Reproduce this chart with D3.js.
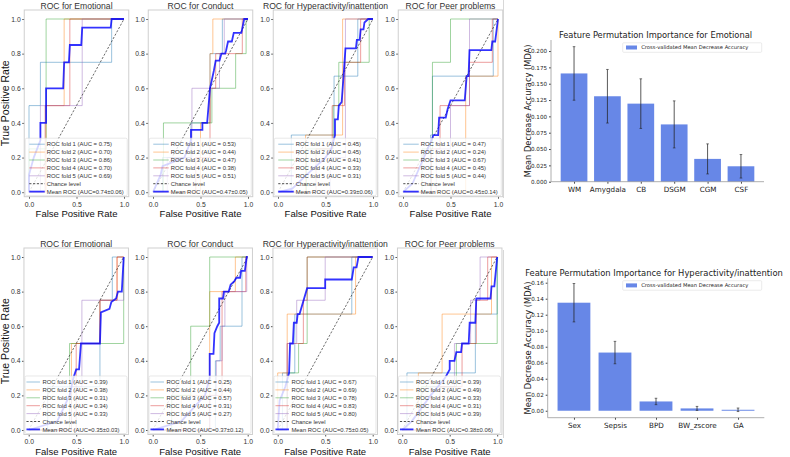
<!DOCTYPE html>
<html><head><meta charset="utf-8">
<script src="https://cdn.jsdelivr.net/npm/d3@7"></script>
<style>body{margin:0;background:#fff}svg{display:block}</style>
</head><body>
<svg id="c" width="790" height="457"></svg>
<script>
// ---------------- DATA ----------------
const rocTitles = ["ROC for Emotional","ROC for Conduct","ROC for Hyperactivity/inattention","ROC for Peer problems"];
const foldAUCTop = [[0.75,0.70,0.86,0.70,0.69],[0.53,0.44,0.47,0.38,0.51],[0.45,0.45,0.41,0.33,0.31],[0.47,0.24,0.67,0.45,0.44]];
const foldAUCBottom = [[0.39,0.38,0.31,0.34,0.33],[0.25,0.44,0.57,0.31,0.27],[0.67,0.69,0.78,0.83,0.80],[0.39,0.49,0.33,0.31,0.39]];
const meanAUCTop = [0.74,0.47,0.39,0.45];
const meanSDTop = [0.06,0.05,0.06,0.14];
const meanAUCBottom = [0.35,0.37,0.75,0.38];
const meanSDBottom = [0.03,0.12,0.05,0.06];

// fold ROC curves [fpr,tpr]
const foldsTopEmotional = [
  [[0,0],[0,0.5],[0.12,0.5],[0.12,0.75],[0.87,0.75],[0.87,1],[1,1]],
  [[0,0],[0.18,0],[0.18,0.5],[0.37,0.5],[0.37,1],[1,1]],
  [[0,0],[0,0.25],[0.18,0.25],[0.18,1],[1,1]],
  [[0,0],[0.17,0],[0.17,0.5],[0.43,0.5],[0.43,1],[1,1]],
  [[0,0],[0.12,0],[0.12,0.5],[0.56,0.5],[0.56,1],[1,1]]
];
const meanTopEmotional = [[0,0],[0,0.1],[0.05,0.2],[0.12,0.3],[0.12,0.4],[0.18,0.4],[0.18,0.6],[0.36,0.6],[0.37,0.75],[0.42,0.75],[0.43,0.85],[0.55,0.85],[0.56,0.95],[0.86,0.95],[0.87,1],[1,1]];
const foldsTopConduct = [
  [[0,0],[0.1,0],[0.1,0.2],[0.4,0.2],[0.4,0.4],[0.6,0.4],[0.6,0.8],[0.73,0.8],[0.73,1],[1,1]],
  [[0,0],[0.5,0],[0.5,0.4],[0.6,0.4],[0.6,0.8],[0.63,0.8],[0.63,1],[1,1]],
  [[0,0],[0.11,0],[0.11,0.4],[0.62,0.4],[0.62,0.6],[0.87,0.6],[0.87,0.8],[0.98,0.8],[0.98,1],[1,1]],
  [[0,0],[0.45,0],[0.45,0.2],[0.6,0.2],[0.6,0.6],[0.66,0.6],[0.66,0.8],[0.94,0.8],[0.94,1],[1,1]],
  [[0,0],[0.15,0],[0.15,0.2],[0.41,0.2],[0.41,0.6],[0.7,0.6],[0.7,0.8],[0.75,0.8],[0.75,1],[1,1]]
];
const meanTopConduct = [[0,0],[0.08,0.1],[0.1,0.15],[0.33,0.2],[0.4,0.3],[0.4,0.36],[0.52,0.36],[0.52,0.4],[0.57,0.4],[0.6,0.6],[0.64,0.7],[0.66,0.76],[0.7,0.76],[0.72,0.8],[0.76,0.8],[0.77,0.82],[0.79,0.87],[0.83,0.87],[0.85,0.92],[0.93,0.92],[0.96,1],[1,1]];
const foldsTopHyper = [
  [[0,0],[0.14,0],[0.14,0.33],[0.59,0.33],[0.59,0.67],[0.84,0.67],[0.84,1],[1,1]],
  [[0,0],[0.29,0],[0.29,0.33],[0.68,0.33],[0.68,1],[1,1]],
  [[0,0],[0.3,0],[0.3,0.25],[0.58,0.25],[0.58,0.5],[0.64,0.5],[0.64,0.75],[0.96,0.75],[0.96,1],[1,1]],
  [[0,0],[0.4,0],[0.4,0.25],[0.57,0.25],[0.57,0.5],[0.7,0.5],[0.7,0.75],[0.87,0.75],[0.87,1],[1,1]],
  [[0,0],[0.55,0],[0.55,0.2],[0.71,0.2],[0.71,1],[1,1]]
];
const meanTopHyper = [[0,0],[0.15,0.02],[0.3,0.1],[0.5,0.2],[0.56,0.25],[0.6,0.33],[0.6,0.42],[0.63,0.42],[0.64,0.5],[0.67,0.52],[0.69,0.67],[0.71,0.83],[0.82,0.83],[0.83,0.88],[0.86,0.88],[0.87,0.94],[0.9,0.94],[0.91,0.98],[0.95,1],[1,1]];
const foldsTopPeer = [
  [[0,0],[0.29,0],[0.29,0.33],[0.31,0.33],[0.31,0.67],[0.95,0.67],[0.95,1],[1,1]],
  [[0,0],[0.66,0],[0.66,0.67],[1,0.67],[1,1]],
  [[0,0],[0.2,0],[0.2,0.25],[0.31,0.25],[0.31,0.75],[0.5,0.75],[0.5,1],[1,1]],
  [[0,0],[0.3,0],[0.3,0.25],[0.39,0.25],[0.39,0.5],[0.7,0.5],[0.7,0.75],[0.94,0.75],[0.94,1],[1,1]],
  [[0,0],[0.35,0],[0.35,0.25],[0.5,0.25],[0.5,0.5],[0.7,0.5],[0.7,1],[1,1]]
];
const meanTopPeer = [[0,0],[0.1,0.05],[0.3,0.3],[0.32,0.33],[0.37,0.33],[0.38,0.43],[0.45,0.43],[0.47,0.48],[0.5,0.53],[0.65,0.53],[0.67,0.67],[0.69,0.67],[0.7,0.82],[0.93,0.82],[0.94,0.87],[0.97,0.87],[1,1]];
const foldsBottomEmotional = [
  [[0,0],[0.2,0],[0.2,0.25],[0.75,0.25],[0.75,0.75],[0.88,0.75],[0.88,1],[1,1]],
  [[0,0],[0.45,0],[0.45,0.5],[0.75,0.5],[0.75,0.75],[0.93,0.75],[0.93,1],[1,1]],
  [[0,0],[0.43,0],[0.43,0.5],[1,0.5],[1,1]],
  [[0,0],[0.5,0],[0.5,0.5],[0.75,0.5],[0.75,0.75],[0.93,0.75],[0.93,1],[1,1]],
  [[0,0],[0.45,0],[0.45,0.25],[0.56,0.25],[0.56,0.75],[1,0.75],[1,1]]
];
const meanBottomEmotional = [[0,0],[0.3,0.05],[0.43,0.2],[0.47,0.3],[0.5,0.35],[0.53,0.35],[0.55,0.5],[0.75,0.5],[0.76,0.68],[0.85,0.7],[0.87,0.74],[0.92,0.76],[0.94,0.8],[0.98,0.8],[1,1]];
const foldsBottomConduct = [
  [[0,0],[0.66,0],[0.66,0.4],[0.71,0.4],[0.71,0.6],[0.94,0.6],[0.94,1],[1,1]],
  [[0,0],[0.3,0],[0.3,0.2],[0.6,0.2],[0.6,0.8],[0.87,0.8],[0.87,1],[1,1]],
  [[0,0],[0.2,0],[0.2,0.2],[0.4,0.2],[0.4,0.6],[0.6,0.6],[0.6,1],[1,1]],
  [[0,0],[0.6,0],[0.6,0.2],[0.73,0.2],[0.73,0.8],[0.98,0.8],[0.98,1],[1,1]],
  [[0,0],[0.6,0],[0.6,0.2],[0.67,0.2],[0.67,0.4],[0.73,0.4],[0.73,0.6],[0.76,0.6],[0.76,0.8],[0.99,0.8],[0.99,1],[1,1]]
];
const meanBottomConduct = [[0,0],[0.3,0.05],[0.55,0.2],[0.6,0.3],[0.6,0.44],[0.64,0.44],[0.65,0.56],[0.68,0.6],[0.7,0.62],[0.7,0.76],[0.74,0.76],[0.75,0.8],[0.8,0.8],[0.82,0.84],[0.86,0.86],[0.88,0.88],[0.92,0.88],[0.93,0.92],[0.97,0.92],[0.99,1],[1,1]];
const foldsBottomHyper = [
  [[0,0],[0.05,0],[0.05,0.33],[0.18,0.33],[0.18,0.67],[0.78,0.67],[0.78,1],[1,1]],
  [[0,0],[0,0.33],[0.1,0.33],[0.1,0.67],[0.82,0.67],[0.82,1],[1,1]],
  [[0,0],[0.1,0],[0.1,0.33],[0.22,0.33],[0.22,0.5],[0.31,0.5],[0.31,1],[1,1]],
  [[0,0],[0.1,0],[0.1,0.5],[0.27,0.5],[0.27,0.75],[0.31,0.75],[0.31,1],[1,1]],
  [[0,0],[0.1,0],[0.1,0.5],[0.2,0.5],[0.2,0.75],[0.5,0.75],[0.5,1],[1,1]]
];
const meanBottomHyper = [[0,0],[0.02,0.17],[0.08,0.25],[0.12,0.33],[0.13,0.5],[0.16,0.5],[0.17,0.62],[0.2,0.62],[0.21,0.67],[0.23,0.67],[0.31,0.82],[0.5,0.82],[0.5,0.87],[0.78,0.87],[0.8,0.94],[0.83,0.94],[0.85,1],[1,1]];
const foldsBottomPeer = [
  [[0,0],[0.05,0],[0.05,0.33],[0.77,0.33],[0.77,0.67],[1,0.67],[1,1]],
  [[0,0],[0.17,0],[0.17,0.33],[0.42,0.33],[0.42,0.67],[0.94,0.67],[0.94,1],[1,1]],
  [[0,0],[0.2,0],[0.2,0.25],[0.57,0.25],[0.57,0.5],[1,0.5],[1,1]],
  [[0,0],[0.4,0],[0.4,0.25],[0.63,0.25],[0.63,0.5],[0.78,0.5],[0.78,0.75],[0.9,0.75],[0.9,1],[1,1]],
  [[0,0],[0.3,0],[0.3,0.25],[0.55,0.25],[0.55,0.5],[0.72,0.5],[0.72,0.75],[0.82,0.75],[0.82,1],[1,1]]
];
const meanBottomPeer = [[0,0],[0.1,0.05],[0.3,0.2],[0.45,0.3],[0.5,0.35],[0.5,0.4],[0.55,0.4],[0.57,0.45],[0.62,0.45],[0.63,0.5],[0.7,0.5],[0.71,0.62],[0.77,0.62],[0.78,0.76],[0.93,0.76],[0.94,0.83],[0.97,0.83],[1,1]];

const foldsTop = [foldsTopEmotional, foldsTopConduct, foldsTopHyper, foldsTopPeer];
const meansTop = [meanTopEmotional, meanTopConduct, meanTopHyper, meanTopPeer];
const foldsBottom = [foldsBottomEmotional, foldsBottomConduct, foldsBottomHyper, foldsBottomPeer];
const meansBottom = [meanBottomEmotional, meanBottomConduct, meanBottomHyper, meanBottomPeer];

const rocXTicks = [0, 0.5, 1];
const rocYTicks = [0, 0.2, 0.4, 0.6, 0.8, 1];

// bar charts
const emoFeatures = ["WM","Amygdala","CB","DSGM","CGM","CSF"];
const emoMDA = [0.1657, 0.1308, 0.1195, 0.0877, 0.0349, 0.0236];
const emoErr = [0.041, 0.041, 0.038, 0.036, 0.023, 0.018];
const emoTicks = [0, 0.025, 0.05, 0.075, 0.1, 0.125, 0.15, 0.175, 0.2];
const hypFeatures = ["Sex","Sepsis","BPD","BW_zscore","GA"];
const hypMDA = [0.135, 0.0727, 0.0116, 0.0029, 0.0012];
const hypErr = [0.024, 0.014, 0.004, 0.0025, 0.0022];
const hypTicks = [0, 0.02, 0.04, 0.06, 0.08, 0.1, 0.12, 0.14, 0.16];

// ---------------- DRAW ----------------
const svg = d3.select("#c");
const foldColors = ["#1f77b4","#ff7f0e","#2ca02c","#d62728","#9467bd"];
const rocFont = "'Liberation Sans', Arial, sans-serif";
const barFont = "'DejaVu Sans', sans-serif";

// faint cropped-edge line
svg.append("line").attr("x1",503.5).attr("x2",503.5).attr("y1",0).attr("y2",198).attr("stroke","#d8d8d8").attr("stroke-width",1);
svg.append("line").attr("x1",503.5).attr("x2",503.5).attr("y1",250).attr("y2",438).attr("stroke","#d8d8d8").attr("stroke-width",1);

function drawROC(i, row) {
  const xZero = row === 0 ? [29, 153, 278, 403][i] : [28.7, 152.7, 277.7, 402.2][i];
  const yOne = row === 0 ? 19 : 257;
  const yZero = row === 0 ? 192.2 : 430;
  const unitX = 95, unitY = yZero - yOne;
  const left = xZero - 0.05*unitX, right = xZero + 1.05*unitX;
  const top = yOne - 9, bottom = yZero + 4.5;
  const x = d3.scaleLinear().domain([-0.05,1.05]).range([left,right]);
  const y = d3.scaleLinear().domain([0,1]).range([yZero,yOne]);
  const folds = row === 0 ? foldsTop[i] : foldsBottom[i];
  const mean = row === 0 ? meansTop[i] : meansBottom[i];
  const aucs = row === 0 ? foldAUCTop[i] : foldAUCBottom[i];
  const mAUC = row === 0 ? meanAUCTop[i] : meanAUCBottom[i];
  const mSD = row === 0 ? meanSDTop[i] : meanSDBottom[i];
  const g = svg.append("g");
  const line = d3.line().x(d=>x(d[0])).y(d=>y(d[1]));

  folds.forEach((f,k)=>{
    g.append("path").attr("d", line(f)).attr("fill","none")
      .attr("stroke", foldColors[k]).attr("stroke-opacity",0.45).attr("stroke-width",1);
  });
  g.append("path").attr("d", line([[0,0],[1,1]])).attr("fill","none")
    .attr("stroke","#222").attr("stroke-width",0.8).attr("stroke-dasharray","2.2,1.6").attr("stroke-opacity",0.85);
  g.append("path").attr("d", line(mean)).attr("fill","none")
    .attr("stroke","#0000ff").attr("stroke-opacity",0.8).attr("stroke-width",1.8);

  // axes
  const xa = g.append("g").attr("transform",`translate(0,${bottom})`)
    .call(d3.axisBottom(x).tickValues(rocXTicks).tickFormat(d3.format(".1f")).tickSize(2).tickPadding(3));
  const ya = g.append("g").attr("transform",`translate(${left},0)`)
    .call(d3.axisLeft(y).tickValues(rocYTicks).tickFormat(d3.format(".1f")).tickSize(2).tickPadding(1.5));
  [xa,ya].forEach(a=>{
    a.select(".domain").remove();
    a.selectAll("line").attr("stroke","#555");
    a.selectAll("text").attr("font-family",rocFont).attr("font-size",6.8).attr("fill","#333");
  });
  g.append("rect").attr("x",left).attr("y",top).attr("width",right-left).attr("height",bottom-top)
    .attr("fill","none").attr("stroke","#cfcfcf").attr("stroke-width",1);

  // legend
  const lg = g.append("g");
  const lx = left + 1;
  const lineX0 = row === 0 ? left+5 : left+2.5, lineX1 = row === 0 ? left+20.5 : left+16, textX = row === 0 ? left+22.5 : left+18.5;
  lg.append("rect").attr("x",lx).attr("y",yZero-54).attr("width",right-left-2.5).attr("height",57.5)
    .attr("rx",1.5).attr("fill","#fff").attr("fill-opacity",0.8).attr("stroke","#d8d8d8").attr("stroke-width",0.6);
  const labels = aucs.map((a,k)=>`ROC fold ${k+1} (AUC = ${a.toFixed(2)})`);
  labels.push("Chance level");
  labels.push(`Mean ROC (AUC=${mAUC.toFixed(2)}±${mSD.toFixed(2)})`);
  labels.forEach((t,k)=>{
    const yy = yZero - 48 + k*7.9;
    const ln = lg.append("line").attr("x1",lineX0).attr("x2",lineX1).attr("y1",yy).attr("y2",yy);
    if (k<5) ln.attr("stroke",foldColors[k]).attr("stroke-opacity",0.45).attr("stroke-width",1);
    else if (k===5) ln.attr("stroke","#222").attr("stroke-width",0.8).attr("stroke-dasharray","2.2,1.6");
    else ln.attr("stroke","#0000ff").attr("stroke-opacity",0.8).attr("stroke-width",1.8);
    lg.append("text").attr("x",textX).attr("y",yy+2.1).text(t)
      .attr("font-family",rocFont).attr("font-size",5.9).attr("fill","#333");
  });

  // title & labels
  g.append("text").attr("x",(left+right)/2).attr("y",top-1.5).attr("text-anchor","middle")
    .attr("font-family",rocFont).attr("font-size",8.6).attr("fill","#333").text(rocTitles[i]);
  g.append("text").attr("x",(left+right)/2).attr("y",bottom+20.3).attr("text-anchor","middle")
    .attr("font-family",rocFont).attr("font-size",9.5).attr("fill","#111").text("False Positive Rate");
  if (i===0) {
    g.append("text").attr("transform",`translate(9,${(top+bottom)/2}) rotate(-90)`).attr("text-anchor","middle")
      .attr("font-family",rocFont).attr("font-size",10.5).attr("fill","#111").text("True Positive Rate");
  }
}
for (let r=0;r<2;r++) for (let i=0;i<4;i++) drawROC(i,r);

function drawBars(cfg) {
  const {cats, vals, errs, ticks, left, right, top, bottom, xDom, yDom, title, titleY, titleSize, fmt, legendY} = cfg;
  const g = svg.append("g");
  const x = d3.scaleLinear().domain(xDom).range([left,right]);
  const y = d3.scaleLinear().domain(yDom).range([bottom,top]);
  const w = x(0.8) - x(0);
  g.selectAll("rect.bar").data(vals).join("rect").attr("class","bar")
    .attr("x",(d,k)=>x(k)-w/2).attr("width",w)
    .attr("y",d=>y(Math.max(d,0))).attr("height",d=>Math.abs(y(d)-y(0)))
    .attr("fill","#4169e1").attr("fill-opacity",0.8);
  vals.forEach((v,k)=>{
    g.append("line").attr("x1",x(k)).attr("x2",x(k)).attr("y1",y(v-errs[k])).attr("y2",y(v+errs[k]))
      .attr("stroke","#222").attr("stroke-opacity",0.75).attr("stroke-width",1);
    [v-errs[k],v+errs[k]].forEach(e=>{
      g.append("line").attr("x1",x(k)-1.3).attr("x2",x(k)+1.3).attr("y1",y(e)).attr("y2",y(e))
        .attr("stroke","#222").attr("stroke-opacity",0.75).attr("stroke-width",0.8);
    });
  });
  const ya = g.append("g").attr("transform",`translate(${left},0)`)
    .call(d3.axisLeft(y).tickValues(ticks).tickFormat(d3.format(fmt)).tickSize(2).tickPadding(2));
  ya.select(".domain").remove();
  ya.selectAll("line").attr("stroke","#444");
  ya.selectAll("text").attr("font-family",barFont).attr("font-size",5.6).attr("fill","#222");
  const xa = g.append("g").attr("transform",`translate(0,${bottom})`)
    .call(d3.axisBottom(x).tickValues(d3.range(cats.length)).tickFormat(k=>cats[k]).tickSize(2).tickPadding(3));
  xa.select(".domain").remove();
  xa.selectAll("line").attr("stroke","#444");
  xa.selectAll("text").attr("font-family",barFont).attr("font-size",7.2).attr("fill","#222");
  g.append("line").attr("x1",left).attr("x2",left).attr("y1",top).attr("y2",bottom).attr("stroke","#999").attr("stroke-width",0.8);
  g.append("line").attr("x1",left).attr("x2",right).attr("y1",bottom).attr("y2",bottom).attr("stroke","#999").attr("stroke-width",0.8);
  g.append("text").attr("x",(left+right)/2 - 2).attr("y",titleY).attr("text-anchor","middle")
    .attr("font-family",barFont).attr("font-size",titleSize).attr("fill","#222").text(title);
  g.append("text").attr("transform",`translate(530.5,${(top+bottom)/2}) rotate(-90)`).attr("text-anchor","middle")
    .attr("font-family",barFont).attr("font-size",8.3).attr("fill","#222").text("Mean Decrease Accuracy (MDA)");
  // legend
  const lx = 622.7;
  g.append("rect").attr("x",lx).attr("y",legendY).attr("width",139).attr("height",9.5).attr("rx",1)
    .attr("fill","#fff").attr("fill-opacity",0.8).attr("stroke","#ddd").attr("stroke-width",0.6);
  g.append("rect").attr("x",lx+3.3).attr("y",legendY+2.7).attr("width",11).attr("height",4)
    .attr("fill","#4169e1").attr("fill-opacity",0.8);
  g.append("text").attr("x",lx+18.5).attr("y",legendY+6.6).attr("font-family",barFont).attr("font-size",5.2)
    .attr("fill","#222").text("Cross-validated Mean Decrease Accuracy");
}

drawBars({cats:emoFeatures, vals:emoMDA, errs:emoErr, ticks:emoTicks, left:551, right:764, top:40, bottom:181.7,
  xDom:[-0.69,5.69], yDom:[0,0.2169], title:"Feature Permutation Importance for Emotional", titleY:38, titleSize:8.3, fmt:".3f", legendY:42.8});
drawBars({cats:hypFeatures, vals:hypMDA, errs:hypErr, ticks:hypTicks, left:547.7, right:764.3, top:278.3, bottom:417.7,
  xDom:[-0.64,4.64], yDom:[-0.0087,0.1655], title:"Feature Permutation Importance for Hyperactivity/inattention", titleY:275.5, titleSize:8.4, fmt:".2f", legendY:280.7});
</script>
</body></html>
